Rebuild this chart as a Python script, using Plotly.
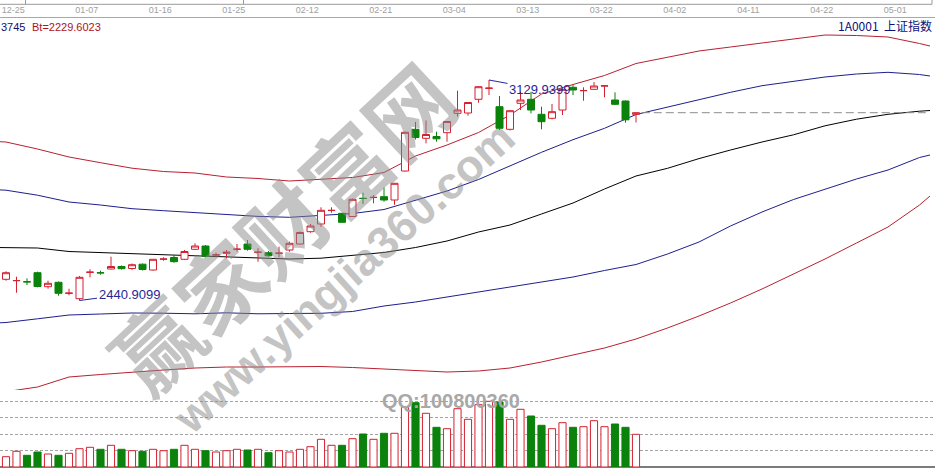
import plotly.graph_objects as go

W, H = 935, 474

# ---- daily candles, 上证指数 (1A0001), bar index 0 = 12-24 ----
opens = [2507.16, 2502.78, 2499.66, 2527.78, 2484.03, 2497.78, 2463.41, 2446.53, 2529.03, 2527.78,
         2539.34, 2547.15, 2540.90, 2554.34, 2536.22, 2569.96, 2575.28, 2569.65, 2600.90, 2611.21,
         2583.09, 2588.40, 2600.90, 2617.46, 2591.53, 2590.28, 2588.40, 2598.71, 2617.46, 2655.90,
         2679.96, 2722.14, 2713.39, 2703.39, 2760.26, 2762.76, 2765.26, 2754.95, 2845.57, 2975.88,
         2947.75, 2953.38, 2965.25, 3025.87, 3026.81, 3069.62, 3103.99, 3046.50, 2975.88, 3057.12,
         3069.62, 3022.75, 3010.25, 3036.18, 3107.12, 3096.49, 3100.87, 3111.18, 3067.43, 3064.31,
         3022.75]
highs = [2532.15, 2515.28, 2510.28, 2530.91, 2502.78, 2500.28, 2477.78, 2517.47, 2538.40, 2534.03,
         2577.78, 2550.28, 2556.53, 2556.53, 2570.59, 2575.90, 2583.09, 2598.71, 2619.65, 2614.34,
         2590.28, 2598.71, 2617.46, 2629.96, 2604.02, 2595.59, 2609.02, 2624.65, 2656.52, 2679.96,
         2732.14, 2732.14, 2714.33, 2759.64, 2777.45, 2770.58, 2794.01, 2808.07, 2968.38, 2998.69,
         3003.37, 2968.38, 3001.81, 3096.49, 3061.18, 3111.18, 3129.94, 3079.93, 3034.62, 3093.37,
         3093.37, 3046.50, 3054.93, 3101.81, 3114.30, 3107.12, 3123.68, 3114.30, 3091.49, 3065.87,
         3028.37]
lows = [2502.78, 2465.28, 2489.34, 2482.16, 2477.78, 2455.91, 2457.16, 2440.91, 2513.41, 2521.53,
        2537.78, 2537.78, 2536.22, 2534.65, 2534.65, 2565.28, 2559.03, 2567.46, 2598.71, 2575.90,
        2575.90, 2572.78, 2593.40, 2596.53, 2562.15, 2577.78, 2575.90, 2593.40, 2615.90, 2652.77,
        2671.21, 2715.27, 2684.02, 2701.83, 2742.45, 2744.64, 2749.64, 2739.95, 2844.01, 2944.00,
        2932.13, 2937.13, 2937.13, 3015.87, 3018.37, 3059.00, 3083.06, 2973.69, 2972.13, 3036.18,
        3025.87, 2975.88, 3007.12, 3020.56, 3083.06, 3065.25, 3098.68, 3075.87, 3051.81, 2996.50,
        2997.12]
closes = [2527.78, 2503.30, 2499.10, 2484.66, 2494.66, 2463.41, 2463.90, 2513.41, 2529.50, 2527.20,
          2547.15, 2540.28, 2552.78, 2537.78, 2569.65, 2570.50, 2562.15, 2594.03, 2611.21, 2579.03,
          2583.60, 2591.84, 2601.40, 2600.90, 2592.00, 2580.59, 2588.90, 2619.65, 2653.40, 2673.71,
          2722.77, 2722.60, 2685.27, 2757.14, 2759.70, 2763.30, 2754.95, 2807.14, 2966.50, 2950.25,
          2959.63, 2946.19, 3000.25, 3036.18, 3059.62, 3108.99, 3104.50, 2979.00, 3034.00, 3067.43,
          3036.18, 2999.62, 3030.87, 3100.87, 3098.68, 3097.00, 3111.18, 3111.70, 3054.00, 3005.56,
          3027.75]
volumes = [103, 157, 117, 150, 130, 117, 137, 183, 197, 177,
           217, 177, 163, 157, 177, 163, 177, 217, 177, 163,
           150, 163, 177, 170, 177, 143, 163, 150, 177, 203,
           277, 217, 217, 283, 330, 277, 337, 337, 597, 643,
           537, 397, 383, 583, 477, 623, 657, 650, 477, 577,
           510, 417, 383, 443, 397, 403, 463, 403, 430, 397,
           327]

# ---- channel lines (plotted forward past the last bar) ----
band_idx = [-1, 0, 3, 6, 9, 12, 15, 18, 21, 24, 27, 30, 33, 36, 39, 42,
            45, 48, 51, 54, 57, 60, 63, 66, 69, 72, 75, 78, 81, 84, 87, 88]
upper_outer = [2937.75, 2936.19, 2914.32, 2889.32, 2871.51, 2854.32, 2844.01, 2839.32, 2826.82, 2822.14,
               2814.32, 2819.01, 2825.26, 2840.88, 2892.44, 2926.81, 2965.88, 3020.56, 3086.18, 3115.87,
               3143.99, 3181.49, 3201.80, 3220.55, 3233.05, 3245.55, 3259.61, 3270.54, 3268.98, 3264.29,
               3243.98, 3236.17]
upper_inner = [2787.14, 2785.58, 2769.95, 2748.70, 2739.33, 2727.77, 2721.52, 2715.89, 2708.08, 2703.71,
               2700.89, 2706.83, 2712.77, 2725.27, 2753.39, 2783.08, 2819.01, 2862.76, 2904.01, 2943.38,
               2979.00, 3022.12, 3045.56, 3067.43, 3091.49, 3112.12, 3126.80, 3139.30, 3148.68, 3153.99,
               3147.11, 3142.43]
middle = [2606.52, 2605.90, 2604.96, 2594.03, 2590.90, 2588.09, 2585.28, 2580.28, 2576.84, 2573.71,
          2570.59, 2573.09, 2581.53, 2590.90, 2606.52, 2626.84, 2654.96, 2676.83, 2711.21, 2745.58,
          2789.33, 2829.95, 2854.01, 2884.32, 2911.19, 2936.19, 2958.69, 2986.81, 3007.44, 3022.75,
          3032.43, 3034.62]
lower_inner = [2370.60, 2372.16, 2383.73, 2395.60, 2398.73, 2401.85, 2401.22, 2399.35, 2402.47, 2399.35,
               2400.29, 2400.91, 2406.54, 2423.72, 2436.22, 2451.85, 2467.47, 2483.09, 2498.72, 2514.34,
               2534.65, 2553.40, 2586.21, 2623.71, 2673.71, 2717.45, 2756.51, 2789.33, 2820.57, 2848.70,
               2887.76, 2895.57]
lower_outer = [2154.99, 2155.93, 2170.61, 2201.86, 2209.67, 2217.49, 2223.74, 2229.99, 2233.11, 2233.11,
               2234.67, 2234.67, 2231.55, 2226.86, 2222.17, 2217.49, 2220.61, 2229.99, 2248.73, 2270.61,
               2292.48, 2320.61, 2354.98, 2392.48, 2433.10, 2476.85, 2523.72, 2570.59, 2620.59, 2670.58,
               2739.33, 2767.45]

# ---- date axis ----
date_ticks = ["12-25", "01-07", "01-16", "01-25", "02-12", "02-21", "03-04",
              "03-13", "03-22", "04-02", "04-11", "04-22", "05-01"]
date_tick_bar = [1, 8, 15, 22, 29, 36, 43, 50, 57, 64, 71, 78, 85]

high_text = "3129.9399"
low_text = "2440.9099"
header_left_a = "3745"
header_left_b = "Bt=2229.6023"
header_right = "1A0001  上证指数"

RED = "#d42030"
GREEN = "#0b820b"
BAND_RED = "#b82030"
BAND_BLUE = "#1e1e8e"
LABEL_BLUE = "#26269a"

bars = list(range(len(opens)))
rising = [c >= o for o, c in zip(opens, closes)]
hi_i = highs.index(max(highs))
lo_i = lows.index(min(lows))

fig = go.Figure()

# channel lines on the base price axis (drawn underneath the candles)
for vals, col in [(lower_outer, BAND_RED), (lower_inner, BAND_BLUE), (middle, "#000000"),
                  (upper_inner, BAND_BLUE), (upper_outer, BAND_RED)]:
    fig.add_trace(go.Scatter(x=band_idx, y=vals, mode="lines", yaxis="y",
                             line=dict(color=col, width=1), hoverinfo="skip"))

# last close extended to the right
fig.add_trace(go.Scatter(x=[bars[-1] + 0.55, band_idx[-1] - 0.2], y=[closes[-1], closes[-1]],
                         mode="lines", yaxis="y",
                         line=dict(color="#8c8c8c", width=1, dash="8px,4px"), hoverinfo="skip"))

# candles on an overlaying axis with the same scale so they sit above the lines
fig.add_trace(go.Candlestick(
    x=bars, open=opens, high=highs, low=lows, close=closes, yaxis="y3",
    increasing=dict(line=dict(color=RED, width=1), fillcolor="#ffffff"),
    decreasing=dict(line=dict(color=GREEN, width=1), fillcolor=GREEN),
    whiskerwidth=0, hoverinfo="skip"))

# volume pane
fig.add_trace(go.Bar(
    x=bars, y=volumes, yaxis="y2", width=0.68,
    marker=dict(color=["#ffffff" if r else GREEN for r in rising],
                line=dict(color=[RED if r else GREEN for r in rising], width=1)),
    hoverinfo="skip"))

PRICE_RANGE = [1898.76, 3379.91]
X_RANGE = [-6 / 10.5, -6 / 10.5 + W / 10.5]

fig.update_layout(
    width=W, height=H, margin=dict(l=0, r=0, t=0, b=0),
    paper_bgcolor="#ffffff", plot_bgcolor="#ffffff",
    showlegend=False, boxgap=0.333, boxgroupgap=0,
    font=dict(family="Liberation Sans"),
    xaxis=dict(range=X_RANGE, side="top", anchor="free", position=1 - 17 / H,
               showgrid=False, zeroline=False, showline=True, linecolor="#a8a8a8", linewidth=1,
               ticks="", tickvals=[b - 0.3 for b in date_tick_bar], ticktext=date_ticks,
               tickfont=dict(size=9, color="#a0a0a0"), rangeslider=dict(visible=False),
               fixedrange=True),
    yaxis=dict(domain=[0, 1], range=PRICE_RANGE, visible=False, fixedrange=True),
    yaxis3=dict(overlaying="y", range=PRICE_RANGE, visible=False, fixedrange=True),
    yaxis2=dict(domain=[7 / H, 84 / H], range=[0, 770], anchor="x",
                showticklabels=False, ticks="", showline=False,
                showgrid=True, tickvals=[165, 330, 495, 660], gridcolor="#a4a4a4",
                gridwidth=1, griddash="3px,2px",
                zeroline=True, zerolinecolor="#7c7c7c", zerolinewidth=2, fixedrange=True),
)

# frame of the pane above
fig.add_shape(type="line", xref="paper", yref="paper", x0=0, x1=932 / W, y0=1 - 4.3 / H, y1=1 - 4.3 / H,
              line=dict(color="#9a9a9a", width=1))
fig.add_shape(type="line", xref="paper", yref="paper", x0=932 / W, x1=932 / W, y0=1, y1=1 - 4.3 / H,
              line=dict(color="#9a9a9a", width=1))
for tx in (25.5, 243.5):
    fig.add_shape(type="line", xref="paper", yref="paper", x0=tx / W, x1=tx / W, y0=1, y1=1 - 4.3 / H,
                  line=dict(color="#9a9a9a", width=1))

# header texts
fig.add_annotation(x=-1 / W, y=1 - 26.5 / H, xref="paper", yref="paper", xanchor="left", yanchor="middle",
                   text=header_left_a, showarrow=False, font=dict(size=11, color="#10106e"))
fig.add_annotation(x=30 / W, y=1 - 26.5 / H, xref="paper", yref="paper", xanchor="left", yanchor="middle",
                   text=header_left_b, showarrow=False, font=dict(size=11, color="#b01020"))
fig.add_annotation(x=934 / W, y=1 - 25 / H, xref="paper", yref="paper", xanchor="right", yanchor="middle",
                   text=header_right, showarrow=False,
                   font=dict(size=12, color="#10107a", family="Noto Sans CJK SC"))

# extreme value labels
fig.add_annotation(x=hi_i, y=highs[hi_i], xref="x", yref="y", text=high_text, showarrow=True,
                   arrowhead=0, arrowwidth=1, arrowcolor=LABEL_BLUE, ax=50.5, ay=9.3,
                   font=dict(size=13, color=LABEL_BLUE))
fig.add_annotation(x=lo_i, y=lows[lo_i], xref="x", yref="y", text=low_text, showarrow=True,
                   arrowhead=0, arrowwidth=1, arrowcolor=LABEL_BLUE, ax=49.5, ay=-6.5,
                   font=dict(size=13, color=LABEL_BLUE))

# watermark
fig.add_annotation(x=281 / W, y=1 - 226 / H, xref="paper", yref="paper", text="<b>赢家财富网</b>",
                   xanchor="center", yanchor="middle",
                   showarrow=False, textangle=-43, opacity=0.5,
                   font=dict(size=86, color="#8a8a8a", family="Noto Sans CJK SC"))
fig.add_annotation(x=344 / W, y=1 - 277 / H, xref="paper", yref="paper", text="<b>www.yingjia360.com</b>",
                   xanchor="center", yanchor="middle",
                   showarrow=False, textangle=-42, opacity=0.5,
                   font=dict(size=45, color="#8a8a8a", family="Liberation Sans"))
fig.add_annotation(x=451 / W, y=1 - 401 / H, xref="paper", yref="paper", text="<b>QQ:100800360</b>",
                   xanchor="center", yanchor="middle",
                   showarrow=False, font=dict(size=20, color="#a8a8a8", family="Liberation Sans"))

fig.write_html("out.html", config={"displayModeBar": False})
